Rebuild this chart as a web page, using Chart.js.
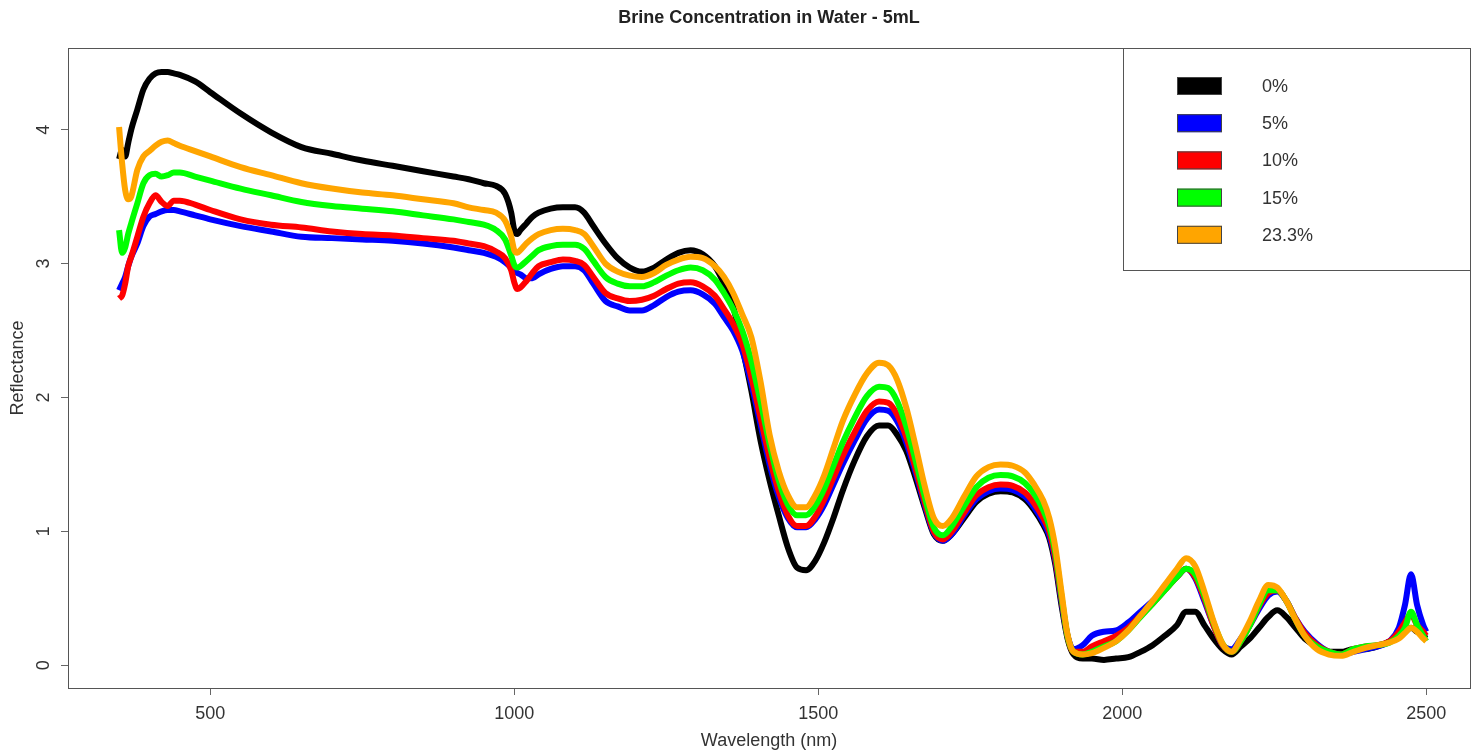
<!DOCTYPE html>
<html>
<head>
<meta charset="utf-8">
<script src="https://cdn.jsdelivr.net/npm/chart.js@4.4.1/dist/chart.umd.min.js"></script>
<style>
html,body{margin:0;padding:0;background:#ffffff;}
#wrap{width:1480px;height:755px;position:relative;}
</style>
</head>
<body>
<div id="wrap"><canvas id="c" width="1480" height="755"></canvas></div>
<script>
// ---------------- data ----------------
const wavelengths = [
  350,355,360,365,370,380,390,400,410,420,
  430,440,450,475,500,550,600,650,700,750,
  800,850,900,925,950,970,985,995,1000,1005,
  1010,1020,1030,1040,1060,1080,1100,1115,1130,1150,
  1170,1190,1210,1230,1250,1270,1290,1310,1330,1345,
  1360,1375,1390,1405,1420,1435,1450,1465,1480,1495,
  1510,1525,1540,1560,1580,1600,1615,1630,1645,1660,
  1675,1690,1705,1720,1740,1760,1780,1800,1820,1840,
  1855,1870,1880,1890,1900,1910,1920,1935,1950,1970,
  1990,2010,2030,2050,2070,2090,2105,2120,2135,2150,
  2165,2180,2195,2210,2225,2240,2255,2270,2285,2300,
  2320,2340,2360,2380,2400,2420,2440,2455,2465,2475,
  2485,2495,2500
];

const refl0 = [
  3.78,3.85,3.80,3.90,4.00,4.15,4.30,4.38,4.42,4.43,
  4.43,4.42,4.41,4.36,4.28,4.12,3.98,3.87,3.82,3.77,
  3.73,3.69,3.65,3.63,3.60,3.58,3.52,3.38,3.25,3.22,
  3.25,3.30,3.35,3.38,3.41,3.42,3.42,3.38,3.28,3.15,
  3.04,2.97,2.94,2.97,3.03,3.08,3.10,3.07,2.98,2.85,
  2.68,2.38,2.05,1.68,1.38,1.12,0.88,0.73,0.71,0.78,
  0.92,1.10,1.30,1.53,1.71,1.79,1.79,1.72,1.60,1.40,
  1.18,0.98,0.93,0.98,1.10,1.22,1.28,1.30,1.29,1.24,
  1.16,1.05,0.95,0.75,0.45,0.20,0.08,0.05,0.05,0.04,
  0.05,0.06,0.10,0.15,0.22,0.30,0.40,0.40,0.30,0.20,
  0.12,0.08,0.14,0.20,0.28,0.36,0.41,0.36,0.28,0.20,
  0.14,0.10,0.10,0.12,0.12,0.14,0.18,0.22,0.25,0.28,
  0.25,0.22,0.20
];

const refl5 = [
  2.80,2.85,2.90,2.98,3.05,3.15,3.28,3.35,3.37,3.39,
  3.40,3.40,3.39,3.36,3.33,3.28,3.24,3.20,3.19,3.18,
  3.17,3.15,3.12,3.10,3.08,3.05,3.01,2.97,2.95,2.93,
  2.92,2.89,2.89,2.92,2.96,2.98,2.98,2.95,2.85,2.72,
  2.68,2.65,2.65,2.69,2.75,2.79,2.80,2.77,2.70,2.60,
  2.50,2.35,2.10,1.80,1.50,1.26,1.10,1.03,1.03,1.09,
  1.20,1.35,1.50,1.68,1.84,1.91,1.90,1.82,1.66,1.44,
  1.20,0.99,0.93,0.98,1.12,1.24,1.30,1.32,1.31,1.26,
  1.18,1.07,0.97,0.78,0.48,0.22,0.12,0.15,0.22,0.25,
  0.26,0.32,0.40,0.48,0.57,0.66,0.72,0.65,0.48,0.30,
  0.15,0.12,0.20,0.30,0.42,0.52,0.55,0.48,0.35,0.25,
  0.16,0.10,0.08,0.10,0.12,0.14,0.18,0.28,0.45,0.68,
  0.45,0.30,0.25
];

const refl10 = [
  2.74,2.76,2.85,2.98,3.05,3.20,3.35,3.45,3.51,3.46,
  3.43,3.47,3.47,3.44,3.40,3.33,3.29,3.27,3.24,3.22,
  3.21,3.19,3.17,3.15,3.13,3.09,3.04,2.95,2.86,2.81,
  2.82,2.87,2.93,2.98,3.01,3.03,3.02,2.99,2.90,2.78,
  2.74,2.72,2.73,2.76,2.81,2.85,2.86,2.83,2.76,2.66,
  2.55,2.40,2.15,1.85,1.55,1.30,1.12,1.04,1.04,1.11,
  1.24,1.40,1.56,1.74,1.90,1.97,1.96,1.87,1.70,1.47,
  1.22,1.00,0.94,1.00,1.14,1.27,1.33,1.35,1.34,1.29,
  1.21,1.10,1.00,0.80,0.50,0.22,0.10,0.10,0.14,0.18,
  0.22,0.28,0.37,0.46,0.56,0.66,0.72,0.66,0.50,0.30,
  0.15,0.10,0.18,0.30,0.44,0.54,0.56,0.48,0.35,0.24,
  0.15,0.10,0.08,0.12,0.14,0.15,0.18,0.25,0.32,0.38,
  0.30,0.25,0.22
];

const refl15 = [
  3.25,3.08,3.12,3.22,3.30,3.45,3.60,3.66,3.67,3.65,
  3.66,3.68,3.68,3.65,3.62,3.56,3.51,3.46,3.43,3.41,
  3.39,3.36,3.33,3.31,3.29,3.25,3.18,3.06,2.99,2.97,
  2.98,3.02,3.06,3.10,3.13,3.14,3.14,3.11,3.02,2.90,
  2.85,2.83,2.83,2.86,2.91,2.95,2.97,2.95,2.88,2.78,
  2.66,2.50,2.27,1.97,1.65,1.38,1.20,1.12,1.12,1.19,
  1.32,1.49,1.66,1.85,2.01,2.08,2.07,1.97,1.78,1.53,
  1.26,1.03,0.97,1.04,1.19,1.33,1.40,1.42,1.41,1.36,
  1.28,1.16,1.04,0.84,0.52,0.22,0.10,0.08,0.10,0.14,
  0.18,0.26,0.36,0.46,0.56,0.66,0.72,0.68,0.52,0.32,
  0.16,0.10,0.18,0.30,0.45,0.56,0.56,0.48,0.34,0.22,
  0.14,0.10,0.08,0.12,0.14,0.15,0.17,0.22,0.28,0.40,
  0.30,0.22,0.18
];

const refl23 = [
  4.02,3.75,3.55,3.48,3.50,3.70,3.80,3.84,3.88,3.91,
  3.92,3.90,3.88,3.84,3.80,3.72,3.66,3.60,3.56,3.53,
  3.51,3.48,3.45,3.42,3.40,3.38,3.32,3.20,3.10,3.08,
  3.10,3.15,3.19,3.22,3.25,3.26,3.25,3.22,3.13,3.00,
  2.94,2.91,2.90,2.93,2.99,3.03,3.05,3.04,2.98,2.90,
  2.78,2.62,2.45,2.12,1.72,1.45,1.27,1.18,1.18,1.27,
  1.42,1.62,1.82,2.02,2.18,2.26,2.24,2.13,1.92,1.64,
  1.34,1.10,1.04,1.10,1.26,1.41,1.48,1.50,1.49,1.44,
  1.35,1.23,1.10,0.88,0.55,0.23,0.10,0.08,0.09,0.13,
  0.18,0.26,0.37,0.48,0.60,0.72,0.80,0.74,0.55,0.33,
  0.16,0.10,0.20,0.33,0.48,0.60,0.58,0.48,0.34,0.22,
  0.12,0.08,0.07,0.10,0.13,0.15,0.17,0.20,0.24,0.28,
  0.25,0.20,0.18
];

const seriesLabels = ['0%', '5%', '10%', '15%', '23.3%'];
const seriesValues = [refl0, refl5, refl10, refl15, refl23];
const seriesColors = ['#000000', '#0000FF', '#FF0000', '#00FF00', '#FFA500'];
const xTickValues = [500, 1000, 1500, 2000, 2500];
const yTickValues = [0, 1, 2, 3, 4];

// ---------------- chart ----------------
const FONT = '"Liberation Sans", Arial, Helvetica, sans-serif';
Chart.defaults.font.family = FONT;
Chart.defaults.font.size = 18;
Chart.defaults.color = '#333333';

const datasets = seriesLabels.map((lab, k) => ({
  label: lab,
  data: wavelengths.map((w, i) => ({ x: w, y: seriesValues[k][i] })),
  borderColor: seriesColors[k],
  backgroundColor: seriesColors[k],
  borderWidth: 6,
  pointRadius: 0,
  cubicInterpolationMode: 'monotone',
  fill: false,
  order: seriesLabels.length - k
}));

const boxPlugin = {
  id: 'rbox',
  afterDatasetsDraw(chart) {
    const { ctx, chartArea: a } = chart;
    ctx.save();
    // legend box (top-right, inside plot)
    const lw = 347, lh = 222;
    const lx = a.right - lw, ly = a.top;
    ctx.fillStyle = '#ffffff';
    ctx.fillRect(lx, ly, lw, lh);
    ctx.strokeStyle = '#555555';
    ctx.lineWidth = 1;
    ctx.strokeRect(lx + 0.5, ly + 0.5, lw, lh);
    chart.data.datasets.forEach((ds, i) => {
      const cy = ly + 38 + i * 37.2;
      ctx.fillStyle = ds.borderColor;
      ctx.fillRect(lx + 54, cy - 9, 45, 18);
      ctx.strokeStyle = '#444444';
      ctx.strokeRect(lx + 54.5, cy - 8.5, 44, 17);
      ctx.fillStyle = '#333333';
      ctx.font = '18px ' + FONT;
      ctx.textAlign = 'left';
      ctx.textBaseline = 'middle';
      ctx.fillText(ds.label, lx + 139, cy + 1);
    });
    // plot frame
    ctx.strokeStyle = '#555555';
    ctx.lineWidth = 1;
    ctx.strokeRect(Math.round(a.left) + 0.5, Math.round(a.top) + 0.5,
                   Math.round(a.right - a.left), Math.round(a.bottom - a.top));
    ctx.restore();
  }
};

new Chart(document.getElementById('c'), {
  type: 'line',
  data: { datasets },
  options: {
    responsive: false,
    animation: false,
    devicePixelRatio: 1,
    layout: { padding: { left: 0, right: 10, top: 0, bottom: 0 } },
    plugins: {
      legend: { display: false },
      tooltip: { enabled: false },
      title: {
        display: true,
        fullSize: false,
        text: 'Brine Concentration in Water - 5mL',
        color: '#222222',
        font: { family: FONT, size: 18, weight: 'bold' },
        padding: { top: 7.2, bottom: 19.2 }
      }
    },
    scales: {
      x: {
        type: 'linear',
        min: 266,
        max: 2572,
        afterBuildTicks: s => { s.ticks = xTickValues.map(v => ({ value: v })); },
        afterFit: s => { s.height = 67; },
        grid: { display: true, drawOnChartArea: false, drawTicks: true, tickLength: 7, tickColor: '#666666' },
        border: { display: true, color: '#555555' },
        ticks: { padding: 8, color: '#333333', font: { size: 18 }, maxRotation: 0, autoSkip: false,
                 callback: v => String(v) },
        title: { display: true, text: 'Wavelength (nm)', color: '#333333', font: { size: 18 }, padding: { top: 0, bottom: 3 } }
      },
      y: {
        type: 'linear',
        min: -0.17,
        max: 4.61,
        afterBuildTicks: s => { s.ticks = yTickValues.map(v => ({ value: v })); },
        afterFit: s => { s.width = 68; },
        grid: { display: true, drawOnChartArea: false, drawTicks: true, tickLength: 7, tickColor: '#666666' },
        border: { display: true, color: '#555555' },
        ticks: { padding: 12, color: '#333333', font: { size: 18 }, minRotation: 90, maxRotation: 90, crossAlign: 'center', autoSkip: false,
                 callback: v => String(v) },
        title: { display: true, text: 'Reflectance', color: '#333333', font: { size: 18 }, padding: { top: 7, bottom: 0 } }
      }
    }
  },
  plugins: [boxPlugin]
});
</script>
</body>
</html>
